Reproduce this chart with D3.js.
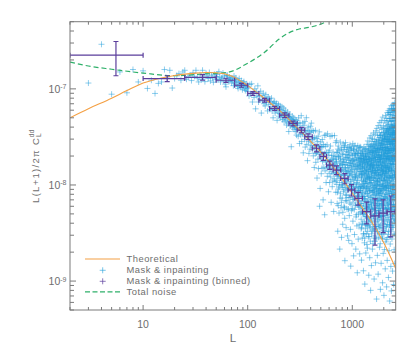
<!DOCTYPE html>
<html><head><meta charset="utf-8">
<script src="https://cdn.jsdelivr.net/npm/d3@7"></script>
<style>body{margin:0;background:#fff}svg{display:block}text{font-family:"Liberation Sans",Arial,sans-serif;fill:#6e6e6e}</style>
</head><body>
<svg id="c" width="407" height="354"></svg>
<script>
// ---------- data ----------
// Theoretical spectrum L(L+1)/2pi C_L^dd
const theoryL = [2,3,5,7,10,15,20,30,40,50,70,100,150,200,300,400,500,700,1000,1300,1500,2000,2600];
const theoryV = [5.0e-8,6.2e-8,8.0e-8,9.6e-8,1.15e-7,1.3e-7,1.38e-7,1.45e-7,1.48e-7,1.47e-7,1.36e-7,1.08e-7,7.7e-8,6.0e-8,3.9e-8,2.85e-8,2.2e-8,1.4e-8,8.2e-9,5.4e-9,4.3e-9,2.5e-9,1.35e-9];
// Total noise
const noiseL = [2,3,5,10,20,35,50,67,100,145,200,250,300,400,550,700,1000];
const noiseV = [1.9e-7,1.73e-7,1.6e-7,1.46e-7,1.37e-7,1.42e-7,1.45e-7,1.5e-7,1.85e-7,2.4e-7,3.3e-7,3.85e-7,4.15e-7,4.4e-7,4.95e-7,6e-7,1e-6];
// Binned mask & inpainting
const binL   = [5.5,17,37,62,87,112,145,181,226,271,326,378,454,530,609,706,848,982,1137,1374,1648,1972,2334];
const binLo  = [2,10,25,50,75,100,128,162,202,248,297,351,414,490,568,655,774,912,1057,1250,1500,1800,2150];
const binHi  = [10,25,50,75,100,128,162,202,248,297,351,414,490,568,655,774,912,1057,1250,1500,1800,2150,2560];
const binV   = [2.24e-7,1.28e-7,1.32e-7,1.23e-7,1.09e-7,8.96e-8,7.63e-8,6.26e-8,5.33e-8,4.37e-8,3.73e-8,3.18e-8,2.41e-8,1.98e-8,1.61e-8,1.43e-8,1.17e-8,8.88e-9,7.27e-9,5.28e-9,4.77e-9,5.1e-9,5.28e-9];
const binErr = [8.7e-8,9e-9,9e-9,6e-9,5e-9,4e-9,3.5e-9,3e-9,3e-9,2.5e-9,2.5e-9,2.2e-9,2e-9,1.8e-9,1.6e-9,1.5e-9,1.4e-9,1.2e-9,1.1e-9,1.35e-9,2.4e-9,1.9e-9,2.4e-9];
// Mask & inpainting per-multipole estimates, values in units of 1e-10
// multipole sampling of each block: [first L, last L, step]
const scatterBlocks = [[2,100,1],[101,299,2],[301,700,3],[702,1197,3],[1200,2598,3],[1201,2599,3],[704,1196,6]];
const scatterA = [7500,1150,2910,880,1500,910,1590,1180,1540,
1010,1230,896,1140,1180,1590,1300,1560,1020,1280,
1380,1440,1230,1500,1560,1260,1330,1390,1220,1470,
1350,1560,1290,1180,1400,1250,1560,1320,1190,1450,
1360,1280,1480,1210,1390,1300,1170,1420,1260,1340,
1420,1250,1510,1330,1180,1300,1290,1460,1210,1350,
1120,1050,1380,1380,1260,1190,1330,1240,1300,1150,
1290,1200,1080,1360,1250,1170,1300,1120,1230,1060,
1010,1190,1280,1100,1160,1040,1220,1090,980,1150,
1070,1190,1020,1110,960,1080,1000,1130,940,1050];
const scatterB = [1020,845,1110,890,1130,730,920,815,1000,620,
940,840,1075,730,840,770,945,560,850,750,
900,700,810,665,870,720,780,590,825,690,
790,610,735,650,800,590,700,500,720,615,
740,560,665,600,705,470,640,575,690,520,
610,555,665,500,600,540,650,480,575,520,
630,455,560,505,600,470,545,420,530,485,
575,440,515,360,505,455,545,410,490,445,
250,480,430,520,395,465,420,500,380,445,
410,480,360,430,395,470,330,415,380,445];
const scatterC = [433,321,499,369,270,440,389,333,526,283,389,338,443,216,350,418,298,458,248,368,318,501,265,367,179,322,
399,284,213,358,318,236,408,258,353,440,278,369,233,297,
308,201,363,246,152,311,256,213,370,172,258,216,
305,118,226,284,186,322,148,250,207,357,60,253,92,221,280,187,131,248,216,149,297,175,250,70,194,
264,153,210,328,49,213,140,252,173,331,106,218,180,150,262,123,341,183,155,219,85,161,204,132,230,106,
177,320,147,254,121,182,66,160,203,137,326,96,182,160,110,220,131,187,53,147,200,116,326,160,165,108,197,135,276,84,172];
const scatterD = [185,133,288,101,216,64,154,123,33,236,
147,254,91,195,124,51,226,106,168,21.5,
201,126,279,81,160,178,58,99,142,28.5,
244,116,162,73,211,95,39,145,184,268,
128,174,85,233,60,152,107,257,45,16.3,
190,94,163,276,69,140,207,36,113,78,
171,232,98,56,138,194,29.5,88,249,126,
152,74,218,114,26.5,180,90,245,48,159,
206,125,65,262,96,170,34.5,137,14.3,189,
228,104,158,54,242,80,129,24.5,179,87,
144,203,71,269,42,115,169,92,234,18.3,
185,101,251,134,55.5,163,30.5,212,82,119,
258,155,87,208,61,122,21.5,181,46.5,103,
221,128,72,237,149,37.5,96,194,12.2,78,
166,112,256,62.5,146,213,27.3,86,183,50,
230,95,157,38.5,243,76,126,188,19.2,59,
162,250,88,52,137,214];
const scatterE = [175,97,246,64,138,35,188,79,16.5,121,
214,128,53,166,82,28,209,102,154,40,
147,226,76,178,51,110,12.8,96,197,31,
249,153,92,50,131,183,25,72,169,9.3,
186,104,237,39,140,86,200,60,115,19.6,
238,135,68,171,31,103,183,47,146,91,
211,121,265,58,159,22,81,176,38,124,
287,164,95,225,45,139,29,195,67,11.5,
233,119,59,262,158,87,37,185,106,17.5,
189,309,75,145,53,216,26,116,160,8,
256,153,88,325,42,179,63,130,14.5,229,
170,111,283,71,201,33,133,84,245,21.5,
303,164,56,217,98,148,24.5,190,78,47,
224,348,120,66,180,35,141,94,255,10.5,
155,297,86,203,50,125,239,29.5,101,184,
336,194,112,56,227,73,15.5,142,263,37,
222,134,366,80,174,27.5,99,207,51,6.5,
274,159,90,388,117,61,235,32.5,144,18.5,
193,327,108,69,240,43.5,151,84,206,11.8,
415,181,126,54,258,92,28.5,162,219,69,
291,142,204,78,352,36.5,112,183,22.5,88,
232,446,101,160,57,276,128,24.5,191,8.2,
326,174,91,238,47,133,398,71,201,15.3,
263,116,467,158,30.5,224,81,146,289,51,
188,379,97,236,63,153,27.5,272,129,9.6,
304,169,508,87,246,40,139,201,19.4,111,
227,414,141,72,297,98,186,33.5,349,7.1,
265,157,387,91,211,48,121,326,21.3,175,
466,216,109,298,75,158,32.8,246,133,13.4,
336,188,527,95,226,56,153,385,25.6,115,
282,444,139,201,72,366,98,186,36.3,8.7,
492,235,158,314,80,402,124,50,215,16.4,
349,186,566,105,265,63,413,146,28.4,201,
298,467,153,226,87,367,30.6,196,593,10.9,
427,238,139,337,98,541,56,178,283,20.7,
566,315,185,386,121,227,38.6,492,81,6.2,
379,622,216,146,288,459,71,168,24.3,102,
494,266,386,164,567,91,227,32.6,337,14.2,
325,541,188,427,111,284,56,668,153,7.9,
458,238,612,141,349,81,201,399,27.4,125,
621,298,414,185,493,95,264,48,366,12.7,
401,566,228,338,120,466,164,684,36.5,75,
527,283,413,195,622,98,361,63,238,9.2,
466,671,314,386,165,584,78,236,21.2,288,
594,351,508,201,427,129,255,44,721,15.2,
413,624,298,466,146,336,87,527,30.4,186,
583,367,236,493,115,288,56];
const scatterF = [158,88,203,61,121,44,176,97,36,139,
112,191,67,148,39,83,224,129,57,171,
94,162,49,205,73,133,31,187,108,64,
181,57,118,232,42,99,155,76,28,141,
126,71,196,53,167,35,109,213,84,47,
203,113,62,151,38,184,93,131,56,24,
144,81,219,46,117,172,68,33,197,104,
96,164,54,128,241,41,186,77,139,59,
176,63,122,29,208,91,154,44,113,227,
119,52,183,87,148,36,251,102,66,167,
218,74,138,43,106,192,57,161,31,124,
61,177,98,252,49,135,84,209,39,153,
143,222,69,118,34,189,93,56,163,267,
87,158,47,231,112,64,198,28,141,79,
266,104,171,58,132,41,214,89,151,26,
121,73,243,45,187,96,137,54,283,68,
174,37,129,215,61,108,159,82,35,241,
92,286,133,51,196,71,117,42,168,99,
228,63,147,33,109,253,81,176,48,136,
105,194,57,297,124,39,163,86,217,64,
151,77,236,46,128,312,59,184,97,31,
269,113,68,201,38,142,87,246,54,173,
83,329,121,48,186,73,259,101,36,157,
198,62,144,271,91,43,207,118,64,338,
126,47,233,81,169,309,56,137,99,28,
244,104,61,178,35,148,286,72,193,52,
89,217,132,44,351,111,67,162,31,256,
171,58,284,96,139,39,208,124,76,322,
113,246,66,188,42,301,93,152,57,227,
318,131,79,212,48,166,102,264,37,143,
84,241,119,362,61,179,27,135,94,293,
196,53,152,276,88,43,231,112,341,69,
127,307,74,198,39,161,251,98,58,376,
239,106,169,46,287,121,64,213,33,148,
92,355,137,57,226,81,183,299,44,118,
272,66,192,109,38,321,147,73,248,52,
158,389,97,216,41,132,279,63,187,29,
117,243,71,336,126,49,204,91,262,34,
301,86,174,55,229,142,398,67,153,42,
193,62,285,119,352,77,167,36,231,104,
84,268,141,47,206,94,327,58,179,273,
346,122,198,69,254,38,163,108,289,51,
137,312,83,219,45,176,371,97,236,62,
259,74,148,392,113,54,201,31,283,129,
96,337,181,58,244,125,41,309,71,192,
224,87,412,136,49,268,102,185,63,354,
158,296,77,213,43,341,118];
const scatterG = [176,112,218,84,143,61,197,129,95,152,
73,187,118,231,66,139,101,164,52,208,
126,89,173,58,247,107,149,79,192,134,
68,223,115,161,92,201,56,142,183,99,
131,74,238,109,167,63,147,88,211,121,
57,176,97,154,71,229,112,186,83,139,
65,203,124,158,94,49,179,106,144,76,
214,118,87,161,59,195,132,102,171,69,
151,92,188];
const scatterValues = [scatterA,scatterB,scatterC,scatterD,scatterE,scatterF,scatterG];
// axis labels
const xTickValues = [10,100,1000];
const xTickLabels = ["10","100","1000"];
const yTickValues = [1e-9,1e-8,1e-7];
const yTickExp = ["-9","-8","-7"];
const legendItems = ["Theoretical","Mask & inpainting","Mask & inpainting (binned)","Total noise"];

// ---------- chart ----------
const C = {orange:"#f4a044", blue:"#1f9edb", purple:"#5b3e9c", green:"#2fb06a", axis:"#7a7a7a"};
const P = {l:70, t:21.7, r:395.7, b:310};
const x = d3.scaleLog().domain([2,2600]).range([P.l,P.r]);
const y = d3.scaleLog().domain([5e-10,5e-7]).range([P.b,P.t]);
const svg = d3.select("#c");
svg.append("rect").attr("width",407).attr("height",354).attr("fill","#fff");
svg.append("defs").append("clipPath").attr("id","clip").append("rect")
  .attr("x",P.l).attr("y",P.t).attr("width",P.r-P.l).attr("height",P.b-P.t);
const plot = svg.append("g").attr("clip-path","url(#clip)");

// scatter
const pts = [];
scatterBlocks.forEach((b,i)=>{
  const Ls = d3.range(b[0], b[1]+1, b[2]);
  Ls.forEach((L,j)=>{ const v = scatterValues[i][j]; if(v!=null) pts.push({L, v:v*1e-10}); });
});
pts.sort((a,b)=>a.L-b.L);
plot.append("g").selectAll("path").data(pts).join("path")
  .attr("d", d=>{const px=x(d.L), py=y(d.v); return `M${px-3},${py}h6M${px},${py-3}v6`;})
  .attr("stroke",C.blue).attr("stroke-opacity",0.5).attr("stroke-width",1).attr("fill","none");

// noise
const line = d3.line().x(d=>x(d[0])).y(d=>y(d[1])).curve(d3.curveMonotoneX);
plot.append("path").attr("d", line(d3.zip(noiseL,noiseV)))
  .attr("fill","none").attr("stroke",C.green).attr("stroke-width",1.2).attr("stroke-dasharray","5,3");
// theory
plot.append("path").attr("d", line(d3.zip(theoryL,theoryV)))
  .attr("fill","none").attr("stroke",C.orange).attr("stroke-width",1.1);

// binned
const bins = binL.map((L,i)=>({L, lo:binLo[i], hi:binHi[i], v:binV[i], e:binErr[i]}));
plot.append("g").selectAll("path").data(bins).join("path")
  .attr("d", d=>{
    const cx=x(d.L), cy=y(d.v), x0=x(d.lo), x1=x(d.hi), yt=y(d.v+d.e), yb=y(d.v-d.e), c=2.5;
    return `M${x0},${cy}H${x1}M${x0},${cy-c}V${cy+c}M${x1},${cy-c}V${cy+c}`+
           `M${cx},${yt}V${yb}M${cx-c},${yt}h${2*c}M${cx-c},${yb}h${2*c}`;
  })
  .attr("fill","none").attr("stroke",C.purple).attr("stroke-width",1.2);

// frame and ticks
const ax = svg.append("g").attr("stroke",C.axis).attr("stroke-width",1).attr("fill","none");
ax.append("rect").attr("x",P.l).attr("y",P.t).attr("width",P.r-P.l).attr("height",P.b-P.t);
const isMajor = t => Math.abs(Math.log10(t)-Math.round(Math.log10(t)))<1e-6;
x.ticks().forEach(t=>{
  const px=x(t), len=isMajor(t)?5:3;
  ax.append("path").attr("d",`M${px},${P.b}v${-len}M${px},${P.t}v${len}`);
});
y.ticks().forEach(t=>{
  const py=y(t), len=isMajor(t)?6:4;
  ax.append("path").attr("d",`M${P.l},${py}h${len}M${P.r},${py}h${-len}`);
});
// x labels
xTickValues.forEach((t,i)=>{
  svg.append("text").attr("x",x(t)).attr("y",P.b+17.5).attr("text-anchor","middle")
    .attr("font-size",10.5).text(xTickLabels[i]);
});
// y labels
yTickValues.forEach((t,i)=>{
  const tx = svg.append("text").attr("x",66.5).attr("y",y(t)+4).attr("text-anchor","end").attr("font-size",10.5);
  tx.append("tspan").text("10");
  tx.append("tspan").attr("dy",-3.5).attr("font-size",7).text(yTickExp[i]);
});
// axis titles
svg.append("text").attr("x",233).attr("y",341.5).attr("text-anchor","middle").attr("font-size",11.5).text("L");
const yl = svg.append("text").attr("transform","translate(38.5,166) rotate(-90)")
  .attr("text-anchor","middle").attr("font-size",9.5).attr("letter-spacing",1.3);
yl.append("tspan").text("L(L+1)/2\u03c0 C");
yl.append("tspan").attr("dy",2.5).attr("font-size",6.5).attr("letter-spacing",0).text("L");
yl.append("tspan").attr("dy",-7).attr("dx",-4).attr("font-size",6.5).attr("letter-spacing",0.5).text("dd");

// legend
const lg = svg.append("g");
const rows = [259, 270.3, 281.3, 291.9];
lg.append("path").attr("d",`M85,${rows[0]}H120`).attr("stroke",C.orange).attr("stroke-width",1.1);
lg.append("path").attr("d",`M99.7,${rows[1]}h6M102.7,${rows[1]-3}v6`).attr("stroke",C.blue).attr("stroke-opacity",0.6);
lg.append("path").attr("d",`M99.7,${rows[2]}h6M102.7,${rows[2]-3}v6`).attr("stroke",C.purple).attr("stroke-opacity",0.7);
lg.append("path").attr("d",`M85,${rows[3]}H120`).attr("stroke",C.green).attr("stroke-width",1.2).attr("stroke-dasharray","5,2.5");
legendItems.forEach((s,i)=>{
  lg.append("text").attr("x",126.5).attr("y",rows[i]+3).attr("font-size",9.4).attr("letter-spacing",0.5).text(s);
});
</script>
</body></html>
